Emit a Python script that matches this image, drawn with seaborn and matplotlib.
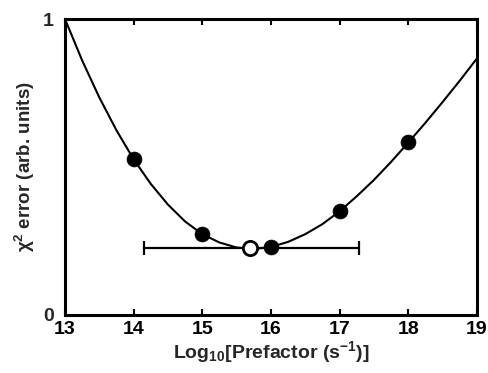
import numpy as np
import pandas as pd
import matplotlib
matplotlib.use("Agg")
import matplotlib.pyplot as plt
import seaborn as sns

# Fitted curve samples
curve_x = [13.00, 13.25, 13.50, 13.75, 14.00, 14.25, 14.50, 14.75, 15.00,
           15.25, 15.50, 15.75, 16.00, 16.25, 16.50, 16.75, 17.00, 17.25,
           17.50, 17.75, 18.00, 18.25, 18.50, 18.75, 19.00]
curve_y = [1.000, 0.860, 0.735, 0.624, 0.526, 0.443, 0.373, 0.316, 0.273,
           0.245, 0.228, 0.223, 0.230, 0.247, 0.273, 0.307, 0.350, 0.401,
           0.456, 0.517, 0.582, 0.649, 0.719, 0.791, 0.866]

# Data points
pts_x = [14, 15, 16, 17, 18]
pts_y = [0.527, 0.274, 0.231, 0.351, 0.583]

# Best fit (open circle) and its uncertainty range
best_x = [15.70]
best_y = [0.225]
err_lo = 14.15
err_hi = 17.28

x_ticks = [13, 14, 15, 16, 17, 18, 19]
y_ticks = [0, 1]

sns.set_style("white")
plt.rcParams['font.family'] = ['Liberation Sans', 'DejaVu Sans']
plt.rcParams['font.weight'] = 'bold'
plt.rcParams['mathtext.fontset'] = 'custom'
plt.rcParams['mathtext.rm'] = 'Liberation Sans:bold'
plt.rcParams['mathtext.it'] = 'Liberation Sans:bold'
plt.rcParams['mathtext.bf'] = 'Liberation Sans:bold'
plt.rcParams['mathtext.default'] = 'rm'

fig = plt.figure(figsize=(4.88, 3.73), dpi=100)
ax = fig.add_axes([0.1332, 0.1555, 0.977 - 0.1332, 0.949 - 0.1555])

curve_df = pd.DataFrame({"x": curve_x, "y": curve_y})
pts_df = pd.DataFrame({"x": pts_x, "y": pts_y})
best_df = pd.DataFrame({"x": best_x, "y": best_y})

# Error bar
ax.errorbar([best_x[0]], [best_y[0]],
            xerr=[[best_x[0] - err_lo], [err_hi - best_x[0]]],
            fmt='none', ecolor='black', elinewidth=1.6, capsize=5,
            capthick=1.6, zorder=2)

sns.lineplot(data=curve_df, x="x", y="y", ax=ax, color="black",
             linewidth=1.5, zorder=3, sort=False)
sns.scatterplot(data=pts_df, x="x", y="y", ax=ax, color="black",
                s=115, edgecolor="black", linewidth=0.5, zorder=4)
sns.scatterplot(data=best_df, x="x", y="y", ax=ax, color="white",
                s=105, edgecolor="black", linewidth=2.0, zorder=5)

ax.set_xlim(13, 19)
ax.set_ylim(0, 1)
ax.set_xticks(x_ticks)
ax.set_yticks(y_ticks)
ax.set_xticklabels([str(t) for t in x_ticks], fontsize=14, fontweight='bold')
ax.set_yticklabels([str(t) for t in y_ticks], fontsize=14, fontweight='bold')
ax.tick_params(axis='x', direction='in', length=4, width=1.5, top=True,
               bottom=True, pad=4, colors='black')
ax.tick_params(axis='y', direction='in', length=0, width=1.5, pad=8)

for s in ax.spines.values():
    s.set_visible(True)
    s.set_linewidth(2.2)
    s.set_color('black')

ax.set_xlabel("Log$_{10}$[Prefactor (s$^{-1}$)]", fontsize=14,
              fontweight='bold', labelpad=1)
ax.set_ylabel("χ$^{2}$ error (arb. units)", fontsize=13.5,
              fontweight='bold', labelpad=4)
ax.grid(False)

fig.savefig("out.png", dpi=100)
